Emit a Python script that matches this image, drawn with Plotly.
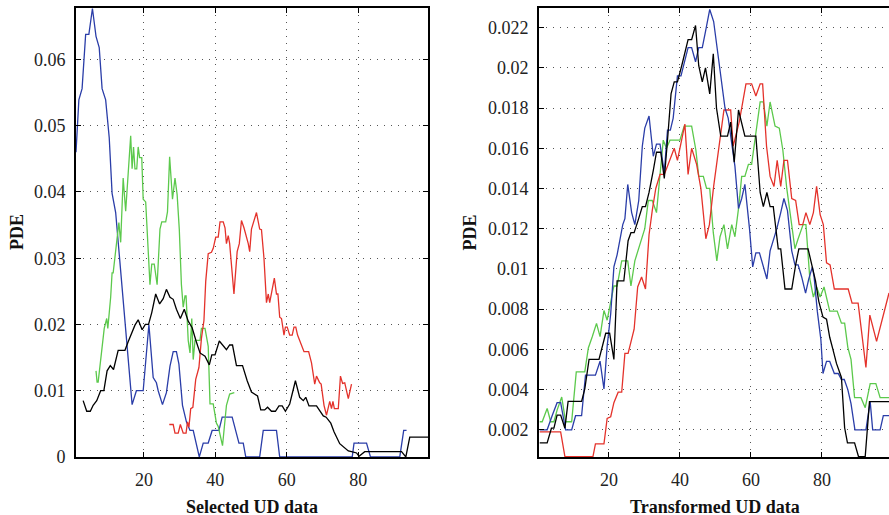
import plotly.graph_objects as go

# ---------------- data (x, PDE) ----------------
left_blue = [(1, 0.046), (1.8, 0.0539), (2.7, 0.0556), (3.7, 0.0638), (4.6, 0.0638), (5.6, 0.0677),
             (6.6, 0.0635), (7.5, 0.0618), (8.3, 0.0556), (9.3, 0.0539), (10.3, 0.0482), (11.1, 0.0398),
             (12.1, 0.0369), (16.7, 0.0079), (17.9, 0.0100), (19.8, 0.0100), (21.4, 0.0200), (22.6, 0.0120),
             (23.5, 0.0112), (24.0, 0.0100), (25.2, 0.0079), (26.3, 0.0097), (27.3, 0.0137), (28.2, 0.0159),
             (29.1, 0.0159), (29.8, 0.0140), (30.8, 0.0078), (31.9, 0.0053), (32.9, 0.0040), (33.8, 0.0040),
             (35.5, 0.0), (36.6, 0.0021), (38.0, 0.0021), (39.1, 0.0040), (41.0, 0.0040), (41.9, 0.0060),
             (44.7, 0.0060), (46.6, 0.0021), (47.8, 0.0021), (48.5, 0.0), (52.4, 0.0), (53.4, 0.0040),
             (57.1, 0.0040), (58.0, 0.0), (78.3, 0.0), (78.8, 0.0021), (82.3, 0.0021), (83.4, 0.0),
             (91.6, 0.0), (92.7, 0.0040), (93.5, 0.0040)]

left_green = [(6.6, 0.0130), (6.9, 0.0113), (7.2, 0.0113), (8.2, 0.0164), (8.9, 0.0194), (9.6, 0.0209),
              (9.9, 0.0194), (10.7, 0.0241), (11.1, 0.0278), (11.4, 0.0278), (12.8, 0.0342), (13.0, 0.0354),
              (13.5, 0.0324), (14.2, 0.0421), (14.9, 0.0371), (15.6, 0.0423), (16.3, 0.0485), (16.7, 0.0435),
              (17.1, 0.0468), (17.5, 0.0435), (18.0, 0.0435), (18.4, 0.0468), (18.8, 0.0452), (19.4, 0.0452),
              (19.8, 0.0389), (20.5, 0.0385), (21.7, 0.0260), (22.2, 0.0291), (22.9, 0.0291), (23.7, 0.0260),
              (24.5, 0.0344), (25.0, 0.0355), (26.1, 0.0355), (26.6, 0.0370), (27.0, 0.0453), (27.2, 0.0453),
              (28.0, 0.0389), (28.7, 0.0421), (29.3, 0.0396), (29.9, 0.0344), (30.5, 0.0260), (31.0, 0.0226),
              (31.5, 0.0243), (31.8, 0.0243), (32.4, 0.0176), (32.9, 0.0157), (33.4, 0.0209), (33.8, 0.0147),
              (34.3, 0.0176), (35.7, 0.0176), (36.1, 0.0194), (37.1, 0.0194), (38.0, 0.0167), (38.5, 0.0080),
              (39.4, 0.0080), (40.3, 0.0051), (40.8, 0.0046), (41.5, 0.0030), (42.0, 0.0017), (43.1, 0.0078),
              (44.0, 0.0095), (45.3, 0.0097)]

left_black = [(3.0, 0.0085), (4.0, 0.0069), (5.0, 0.0069), (5.8, 0.0078), (6.8, 0.0085), (7.9, 0.0100),
              (8.8, 0.0100), (9.7, 0.0130), (10.6, 0.0138), (11.5, 0.0132), (12.8, 0.0161), (14.7, 0.0161),
              (15.6, 0.0174), (16.5, 0.0186), (17.5, 0.0199), (18.4, 0.0207), (19.5, 0.0192), (20.4, 0.0200),
              (21.3, 0.0200), (22.2, 0.0218), (23.3, 0.0246), (24.4, 0.0231), (25.4, 0.0239), (26.3, 0.0253),
              (27.3, 0.0241), (28.2, 0.0238), (29.1, 0.0223), (30.2, 0.0209), (31.3, 0.0223), (32.4, 0.0205),
              (33.5, 0.0195), (34.6, 0.0175), (35.7, 0.0157), (37.1, 0.0152), (38.3, 0.0139), (39.0, 0.0154),
              (39.9, 0.0154), (41.1, 0.0175), (42.2, 0.0167), (43.1, 0.0162), (44.0, 0.0169), (44.8, 0.0169),
              (45.9, 0.0138), (47.6, 0.0138), (48.9, 0.0115), (50.1, 0.0098), (51.8, 0.0092), (52.7, 0.0071),
              (53.8, 0.0071), (54.6, 0.0075), (55.7, 0.0069), (56.8, 0.0069), (57.8, 0.0077), (58.7, 0.0077),
              (59.6, 0.0069), (60.8, 0.0080), (62.4, 0.0115), (63.6, 0.0090), (64.6, 0.0085), (65.3, 0.0090),
              (66.2, 0.0077), (68.3, 0.0077), (70.2, 0.0062), (71.0, 0.0060), (72.3, 0.0051), (73.2, 0.0038),
              (74.8, 0.0020), (76.2, 0.0014), (77.2, 0.0009), (78.1, 0.0008), (79.5, 0.0006), (80.2, 0.0001),
              (81.8, 0.0008), (92.1, 0.0008), (93.3, 0.0), (94.4, 0.0030), (99.5, 0.0030)]

left_red = [(27.1, 0.0049), (28.2, 0.0049), (28.7, 0.0036), (29.6, 0.0036), (30.2, 0.0049), (31.0, 0.0036),
            (31.8, 0.0036), (32.2, 0.0053), (32.6, 0.0045), (33.1, 0.0073), (33.7, 0.0075), (34.5, 0.0117),
            (35.4, 0.0135), (36.1, 0.0179), (36.8, 0.0206), (37.3, 0.0265), (38.0, 0.0307), (38.9, 0.0309),
            (39.4, 0.0315), (40.1, 0.0332), (40.8, 0.0332), (41.3, 0.0355), (42.2, 0.0355), (42.7, 0.0346),
            (43.1, 0.0322), (43.6, 0.0334), (44.0, 0.0322), (45.2, 0.0246), (46.1, 0.0310), (46.7, 0.0322),
            (47.3, 0.0357), (48.0, 0.0346), (49.2, 0.0322), (49.6, 0.0310), (50.1, 0.0344), (51.5, 0.0369),
            (52.4, 0.0344), (52.9, 0.0343), (53.6, 0.0300), (54.3, 0.0233), (54.8, 0.0246), (55.2, 0.0233),
            (56.5, 0.0270), (57.1, 0.0246), (57.5, 0.0246), (58.0, 0.0211), (58.5, 0.0209), (59.2, 0.0184),
            (59.6, 0.0196), (60.1, 0.0196), (60.8, 0.0184), (61.5, 0.0184), (62.0, 0.0196), (62.5, 0.0196),
            (63.0, 0.0184), (63.9, 0.0172), (64.8, 0.0159), (66.1, 0.0159), (66.9, 0.0142), (67.8, 0.0110),
            (68.3, 0.0122), (69.2, 0.0112), (69.6, 0.0110), (70.4, 0.0078), (71.1, 0.0063), (72.0, 0.0084),
            (72.5, 0.0073), (72.9, 0.0084), (73.3, 0.0073), (74.4, 0.0073), (75.0, 0.0122), (75.6, 0.0111),
            (76.2, 0.0112), (77.2, 0.0088), (77.8, 0.0105), (78.1, 0.0110)]

right_red = [(0.5, 0.0019), (6.4, 0.0019), (7.6, 0.00067), (15.5, 0.00067), (16.2, 0.0013), (18.6, 0.0013),
             (19.5, 0.00257), (20.5, 0.00265), (21.4, 0.00335), (22.6, 0.00387), (23.6, 0.00387), (24.5, 0.0058),
             (25.4, 0.0058), (27.1, 0.0070), (28.1, 0.0091), (29.2, 0.0096), (30.3, 0.0090), (31.3, 0.0117),
             (32.2, 0.0129), (33.2, 0.0140), (34.4, 0.0147), (35.6, 0.0147), (36.7, 0.0152), (38.4, 0.0160),
             (39.3, 0.0154), (40.5, 0.0164), (41.4, 0.0172), (42.3, 0.0147), (43.3, 0.0160), (44.7, 0.0152),
             (45.9, 0.0140), (47.3, 0.0115), (48.3, 0.0122), (49.5, 0.0141), (51.3, 0.0165), (52.4, 0.0179),
             (54.3, 0.0179), (55.0, 0.0161), (56.7, 0.0173), (57.3, 0.0179), (58.6, 0.0192), (60.2, 0.0192),
             (61.4, 0.0186), (62.6, 0.0192), (63.3, 0.0192), (64.4, 0.0161), (65.4, 0.0146), (66.5, 0.0141),
             (67.4, 0.0154), (68.4, 0.0141), (69.3, 0.0154), (70.3, 0.0154), (71.5, 0.0135), (72.6, 0.0134),
             (73.6, 0.0122), (74.6, 0.0122), (75.5, 0.0128), (76.6, 0.0122), (77.6, 0.0128), (78.5, 0.0141),
             (79.5, 0.0127), (80.4, 0.0122), (81.3, 0.0103), (82.3, 0.0102), (83.5, 0.0090), (87.4, 0.0090),
             (88.5, 0.0083), (90.2, 0.0083), (92.4, 0.0051), (93.5, 0.0077), (95.4, 0.0064), (98.9, 0.0088)]

right_blue = [(0.5, 0.002), (2.6, 0.002), (4.0, 0.0027), (5.4, 0.00335), (6.4, 0.00335), (7.8, 0.002),
              (9.5, 0.002), (10.6, 0.0027), (12.3, 0.0027), (13.4, 0.00472), (16.2, 0.00472), (17.5, 0.00541),
              (18.6, 0.00403), (19.5, 0.00615), (20.5, 0.00777), (21.4, 0.0101), (22.3, 0.0107), (23.9, 0.0122),
              (24.5, 0.0125), (25.3, 0.0142), (26.4, 0.0128), (27.3, 0.0122), (28.4, 0.0134), (29.4, 0.0161),
              (30.1, 0.0170), (31.3, 0.0176), (32.5, 0.0156), (33.4, 0.0162), (34.4, 0.0162), (35.6, 0.0148),
              (36.5, 0.0169), (37.3, 0.0169), (38.1, 0.0175), (38.8, 0.0187), (39.3, 0.0196), (40.3, 0.0196),
              (41.4, 0.0203), (42.3, 0.0210), (43.3, 0.0210), (44.4, 0.0203), (45.3, 0.0210), (46.3, 0.0210),
              (47.2, 0.0218), (48.4, 0.0229), (49.5, 0.0223), (50.6, 0.0208), (51.8, 0.0193), (52.7, 0.0180),
              (53.6, 0.0175), (54.6, 0.0162), (55.5, 0.0151), (56.5, 0.0130), (57.4, 0.0135), (58.3, 0.0142),
              (59.6, 0.0120), (60.5, 0.0101), (61.4, 0.0108), (62.4, 0.0108), (63.5, 0.0101), (64.5, 0.0095),
              (65.4, 0.0109), (66.3, 0.0114), (67.3, 0.0120), (68.4, 0.0128), (69.3, 0.0135), (70.3, 0.0129),
              (71.5, 0.0109), (72.4, 0.0102), (73.3, 0.0102), (74.3, 0.0096), (75.4, 0.0088), (76.3, 0.0095),
              (77.3, 0.0101), (77.8, 0.0096), (78.7, 0.0079), (79.7, 0.0065), (80.3, 0.0048), (81.3, 0.0054),
              (82.2, 0.0054), (83.5, 0.0048), (84.6, 0.0048), (85.5, 0.0045), (86.3, 0.0045), (87.3, 0.0040),
              (88.2, 0.0033), (89.3, 0.0020), (92.4, 0.0020), (93.6, 0.0034), (94.3, 0.0020), (96.4, 0.0020),
              (97.3, 0.0027), (98.9, 0.0027)]

right_green = [(0.5, 0.0024), (1.2, 0.0024), (2.6, 0.00306), (3.6, 0.0024), (4.5, 0.0024), (5.4, 0.00298),
               (6.7, 0.00363), (7.8, 0.0024), (9.5, 0.0024), (10.8, 0.00488), (13.2, 0.00488), (14.2, 0.00607),
               (15.3, 0.00663), (16.5, 0.00729), (17.5, 0.00663), (18.6, 0.00793), (19.5, 0.00745), (20.5, 0.00826),
               (21.4, 0.00915), (22.3, 0.00915), (23.6, 0.0104), (25.3, 0.0104), (26.2, 0.00915), (27.3, 0.0104),
               (28.7, 0.0112), (30.1, 0.0120), (31.1, 0.0134), (32.2, 0.0134), (33.4, 0.0128), (34.4, 0.0148),
               (35.3, 0.0164), (36.2, 0.0160), (37.2, 0.0164), (40.0, 0.0164), (41.2, 0.0171), (43.3, 0.0171),
               (44.5, 0.0159), (45.3, 0.0146), (46.6, 0.0146), (47.5, 0.0140), (48.4, 0.0140), (49.4, 0.0118),
               (50.4, 0.0104), (51.3, 0.0116), (52.4, 0.0122), (53.4, 0.0110), (54.6, 0.0122), (55.5, 0.0116),
               (56.5, 0.0130), (57.4, 0.0146), (58.3, 0.0146), (59.3, 0.0152), (60.2, 0.0152), (61.2, 0.0165),
               (62.6, 0.0183), (63.5, 0.0183), (64.5, 0.0171), (65.4, 0.0183), (66.8, 0.0171), (68.0, 0.0170),
               (69.0, 0.0159), (70.1, 0.0140), (71.5, 0.0120), (72.4, 0.0110), (73.3, 0.0115), (74.7, 0.0122),
               (75.5, 0.0122), (76.6, 0.0095), (77.6, 0.0086), (78.5, 0.0091), (79.5, 0.0086), (80.6, 0.0091),
               (82.2, 0.0079), (84.3, 0.0079), (85.5, 0.0073), (86.4, 0.0073), (87.3, 0.0061), (88.2, 0.0055),
               (89.2, 0.0036), (91.0, 0.0036), (92.2, 0.0031), (93.6, 0.0043), (95.2, 0.0043), (96.4, 0.0036),
               (98.9, 0.0036)]

right_black = [(0.5, 0.00135), (2.6, 0.00135), (3.8, 0.00208), (4.5, 0.00208), (5.4, 0.00273), (6.4, 0.00273),
               (7.6, 0.00208), (8.5, 0.00341), (12.3, 0.00341), (13.2, 0.00403), (14.4, 0.0055), (17.2, 0.0055),
               (19.1, 0.0068), (20.2, 0.0068), (21.4, 0.0055), (22.3, 0.0094), (24.2, 0.0094), (25.4, 0.0114),
               (26.2, 0.0118), (27.1, 0.0118), (28.2, 0.0124), (29.4, 0.0131), (30.3, 0.0131), (31.3, 0.0138),
               (32.5, 0.0149), (33.4, 0.0158), (34.6, 0.0158), (35.6, 0.0145), (36.5, 0.0164), (37.5, 0.0187),
               (38.4, 0.0193), (39.3, 0.0193), (40.5, 0.0201), (41.4, 0.0208), (42.3, 0.0214), (43.3, 0.0214),
               (44.4, 0.0221), (45.3, 0.0201), (46.3, 0.0193), (47.2, 0.0200), (48.4, 0.0187), (49.4, 0.0207),
               (50.3, 0.0180), (51.5, 0.0166), (53.4, 0.0166), (54.3, 0.0173), (55.3, 0.0153), (56.5, 0.0179),
               (58.3, 0.0166), (61.4, 0.0166), (62.6, 0.0138), (63.5, 0.0131), (64.5, 0.0138), (65.4, 0.0131),
               (66.3, 0.0131), (67.7, 0.0110), (68.4, 0.0110), (69.6, 0.0090), (71.5, 0.0090), (72.6, 0.0102),
               (73.5, 0.0110), (76.1, 0.0110), (77.2, 0.0102), (78.2, 0.0094), (79.1, 0.0084), (80.3, 0.0076),
               (81.3, 0.0075), (82.2, 0.0066), (83.1, 0.0060), (84.1, 0.0053), (85.5, 0.0046), (86.4, 0.0021),
               (87.2, 0.00135), (89.2, 0.00135), (90.3, 0.00067), (92.2, 0.00067), (93.4, 0.0034), (98.9, 0.0034)]

x_ticks = [20, 40, 60, 80]
left_y_ticks = [0, 0.01, 0.02, 0.03, 0.04, 0.05, 0.06]
left_y_labels = ["0", "0.01", "0.02", "0.03", "0.04", "0.05", "0.06"]
right_y_ticks = [0.002, 0.004, 0.006, 0.008, 0.010, 0.012, 0.014, 0.016, 0.018, 0.020, 0.022]
right_y_labels = ["0.002", "0.004", "0.006", "0.008", "0.01", "0.012", "0.014", "0.016", "0.018", "0.02", "0.022"]

BLUE = "#2a3da8"
GREEN = "#5cc94c"
RED = "#e4322b"
BLACK = "#000000"

fig = go.Figure()


def add(series, color, xa, ya):
    xs, ys = zip(*series)
    fig.add_trace(go.Scatter(x=list(xs), y=list(ys), mode="lines", xaxis=xa, yaxis=ya,
                             line=dict(color=color, width=1.3), showlegend=False,
                             hoverinfo="skip"))


for s, c in [(left_blue, BLUE), (left_green, GREEN), (left_red, RED), (left_black, BLACK)]:
    add(s, c, "x", "y")
for s, c in [(right_green, GREEN), (right_red, RED), (right_blue, BLUE), (right_black, BLACK)]:
    add(s, c, "x2", "y2")

W, H = 889, 515
FONT = "Liberation Serif, Times New Roman, DejaVu Serif, serif"
tickfont = dict(family=FONT, size=18, color="#222222")

common_x = dict(tickvals=x_ticks, ticktext=[str(v) for v in x_ticks], ticks="inside", ticklen=5,
                tickcolor="#000", showline=True, linecolor="#000", linewidth=1.6,
                showgrid=True, gridcolor="#555555", griddash="1px,6px", gridwidth=1,
                zeroline=False, tickfont=tickfont, ticklabelstandoff=6)
common_y = dict(ticks="inside", ticklen=5, tickcolor="#000", showline=True, linecolor="#000",
                linewidth=1.6, showgrid=True, gridcolor="#555555", griddash="1px,6px", gridwidth=1,
                zeroline=False, tickfont=tickfont, ticklabelstandoff=5)

fig.update_layout(
    width=W, height=H, margin=dict(l=0, r=0, t=0, b=0),
    paper_bgcolor="white", plot_bgcolor="white",
    xaxis=dict(domain=[76 / W, 428 / W], range=[1, 99.5], anchor="y", mirror="ticks", **common_x),
    yaxis=dict(domain=[(H - 466) / H, (H - 8) / H], range=[0, 0.0678], anchor="x", mirror="ticks",
               tickvals=left_y_ticks, ticktext=left_y_labels, **common_y),
    xaxis2=dict(domain=[539 / W, 1.0], range=[0.3, 98.9], anchor="y2", mirror="ticks", **common_x),
    yaxis2=dict(domain=[(H - 466) / H, (H - 8) / H], range=[0.00065, 0.02298], anchor="x2", mirror=False,
                tickvals=right_y_ticks, ticktext=right_y_labels, **common_y),
)

title_font = dict(family=FONT, size=18, color="#111111")
ann = [
    dict(text="<b>PDE</b>", x=17.5 / W, y=(H - 237) / H, textangle=-90, yshift=0),
    dict(text="<b>PDE</b>", x=470 / W, y=(H - 237) / H, textangle=-90, yshift=0),
    dict(text="<b>Selected UD data</b>", x=252 / W, y=(H - 506) / H, textangle=0, yshift=-11),
    dict(text="<b>Transformed UD data</b>", x=715 / W, y=(H - 506) / H, textangle=0, yshift=-11),
]
for a in ann:
    fig.add_annotation(xref="paper", yref="paper", showarrow=False, font=title_font,
                       xanchor="center", yanchor="middle", **a)

fig.write_html("out.html")
